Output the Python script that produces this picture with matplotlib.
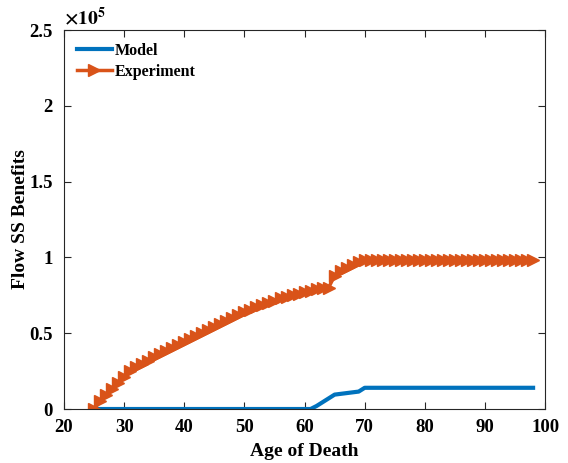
import numpy as np
import matplotlib
matplotlib.use('Agg')
import matplotlib.pyplot as plt
from matplotlib.ticker import FuncFormatter

plt.rcParams['font.family'] = ['Liberation Serif', 'DejaVu Serif']
plt.rcParams['font.weight'] = 'bold'
plt.rcParams['mathtext.fontset'] = 'stix'

# Dados (valores em unidades de 1e5)
idade = list(range(25, 99))
modelo = [0.0] * 37 + [0.02, 0.045, 0.07, 0.095, 0.10, 0.105, 0.11, 0.115, 0.14] + [0.14] * 28
experimento = [0.0, 0.05, 0.09, 0.13, 0.17, 0.21, 0.25, 0.28, 0.30, 0.32,
               0.34, 0.36, 0.38, 0.40, 0.42, 0.44, 0.46, 0.48, 0.50, 0.52,
               0.54, 0.56, 0.58, 0.60, 0.62, 0.64, 0.655, 0.67, 0.685, 0.70,
               0.715, 0.73, 0.74, 0.75, 0.76, 0.77, 0.78, 0.79, 0.795, 0.80,
               0.88, 0.91, 0.93, 0.95, 0.97, 0.98] + [0.98] * 28

escala = 1e5
modelo = np.array(modelo) * escala
experimento = np.array(experimento) * escala

fig = plt.figure(figsize=(5.68, 4.63), dpi=100)
ax = fig.add_axes([0.1127, 0.1166, 0.847, 0.8186])

ax.plot(idade, modelo, color='#0072BD', linewidth=3, label='Model')
ax.plot(idade, experimento, color='#D95319', linewidth=2.5, marker='>',
        markersize=8, label='Experiment')

ax.set_xlim(20, 100)
ax.set_ylim(0, 2.5e5)
ax.set_xticks(range(20, 101, 10))
ax.set_yticks(np.arange(0, 2.51e5, 0.5e5))
ax.yaxis.set_major_formatter(FuncFormatter(lambda v, p: f'{v / escala:g}'))
ax.tick_params(direction='in', top=True, right=True, labelsize=13.5, length=5,
               color='#262626')
ax.tick_params(axis='x', pad=7)
ax.tick_params(axis='y', pad=8)
for s in ax.spines.values():
    s.set_color('#262626')
    s.set_linewidth(0.8)
for lab in ax.get_xticklabels() + ax.get_yticklabels():
    lab.set_fontweight('bold')

ax.text(0.0, 1.003, r'$\mathbf{\times 10^{5}}$', transform=ax.transAxes, fontsize=14,
        va='bottom', ha='left')

ax.set_xlabel('Age of Death', fontsize=14, fontweight='bold', labelpad=5)
ax.set_ylabel('Flow SS Benefits', fontsize=14, fontweight='bold', labelpad=0)

leg = ax.legend(loc='upper left', frameon=False, fontsize=11.5, handlelength=2.2,
                handletextpad=0.2, borderaxespad=0.4, labelspacing=0.3)
for t in leg.get_texts():
    t.set_fontweight('bold')

fig.savefig('out.png', dpi=100)
